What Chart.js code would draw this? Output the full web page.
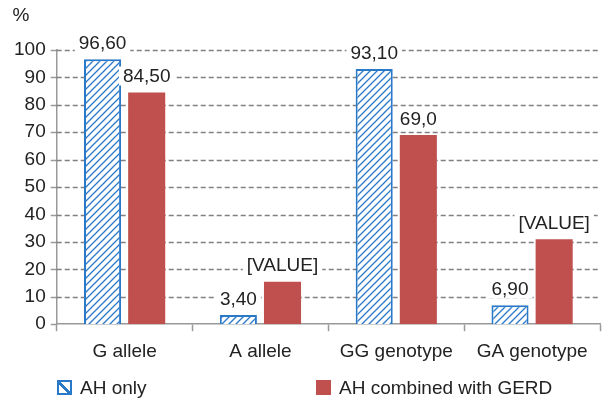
<!DOCTYPE html>
<html lang="en">
<head>
    <meta charset="UTF-8">
    <title>AH only vs AH combined with GERD</title>
    <script src="https://cdn.jsdelivr.net/npm/chart.js"></script>
    <style>
        body { margin: 0; background: #fff; }
        .legend {
            position: absolute; top: 377px; left: 0; width: 614px; height: 22px;
            font: 19px "Liberation Sans", Arial, sans-serif; color: #222;
        }
        .legend span.item { position: absolute; top: 0; white-space: nowrap; }
        .legend i {
            display: inline-block; width: 11px; height: 11px; vertical-align: -1px;
            margin-right: 8px; box-sizing: content-box;
        }
        .legend i.hatch {
            border: 2px solid #2a78c8;
            background: linear-gradient(45deg, #fff 40%, #2a78c8 40%, #2a78c8 58%, #fff 58%);
        }
        .legend i.solid { background: #c0504d; border: 2px solid #c0504d; }
    </style>
</head>
<body>
<canvas id="chart" width="614" height="400"></canvas>
<div class="legend">
    <span class="item" style="left:57px"><i class="hatch"></i>AH only</span>
    <span class="item" style="left:316px"><i class="solid"></i>AH combined with GERD</span>
</div>
<script>
    // data
    const categories = ['G allele', 'A allele', 'GG genotype', 'GA genotype'];
    const ahOnly = [96.6, 3.4, 93.1, 6.9];
    const ahGerd = [84.5, 15.5, 69.0, 31.0];
    const ahOnlyText = ['96,60', '3,40', '93,10', '6,90'];
    const ahGerdText = ['84,50', '[VALUE]', '69,0', '[VALUE]'];
    const yTicks = [0, 10, 20, 30, 40, 50, 60, 70, 80, 90, 100];

    const blue = '#2a78c8';
    const red = '#c0504d';
    const FONT = '"Liberation Sans", Arial, sans-serif';

    // hatch pattern for the AH only bars
    function makeHatch() {
        const s = 7;
        const c = document.createElement('canvas');
        c.width = s; c.height = s;
        const g = c.getContext('2d');
        g.fillStyle = '#fff';
        g.fillRect(0, 0, s, s);
        g.strokeStyle = blue;
        g.lineWidth = 1.3;
        g.beginPath();
        g.moveTo(0, s); g.lineTo(s, 0);
        g.moveTo(-1, 1); g.lineTo(1, -1);
        g.moveTo(s - 1, s + 1); g.lineTo(s + 1, s - 1);
        g.stroke();
        return g.createPattern(c, 'repeat');
    }

    // dashed horizontal grid (built-in one did not show up here)
    const dashedGrid = {
        id: 'dashedGrid',
        beforeDatasetsDraw(chart) {
            const g = chart.ctx;
            const ys = chart.scales.y;
            const area = chart.chartArea;
            g.save();
            g.lineWidth = 1.5;
            yTicks.forEach(v => {
                const py = Math.round(ys.getPixelForValue(v)) + 0.5;
                g.strokeStyle = '#999';
                g.setLineDash([]);
                g.beginPath();
                g.moveTo(area.left - 6, py); g.lineTo(area.left, py);
                g.stroke();
                if (v === yTicks[0]) return;
                g.strokeStyle = '#808080';
                g.setLineDash([5, 3]);
                g.beginPath();
                g.moveTo(area.left, py); g.lineTo(area.right, py);
                g.stroke();
            });
            g.restore();
        }
    };

    // value labels on a white box, plus the "%" unit above the y axis
    const valueLabels = {
        id: 'valueLabels',
        afterDatasetsDraw(chart) {
            const g = chart.ctx;
            const texts = [ahOnlyText, ahGerdText];
            g.save();
            g.font = '19px ' + FONT;
            g.textAlign = 'center';
            g.textBaseline = 'bottom';
            texts.forEach((list, di) => {
                chart.getDatasetMeta(di).data.forEach((bar, i) => {
                    const t = list[i];
                    const w = g.measureText(t).width;
                    const y = bar.y - 7;
                    g.fillStyle = '#fff';
                    g.fillRect(bar.x - w / 2 - 4, y - 19, w + 8, 19);
                    g.fillStyle = '#222';
                    g.fillText(t, bar.x, y + 1);
                });
            });
            const ys = chart.scales.y;
            g.fillText('%', ys.left + 12, ys.top - 25);
            g.restore();
        }
    };

    const chart = new Chart(document.getElementById('chart'), {
        type: 'bar',
        data: {
            labels: categories,
            datasets: [{
                label: 'AH only',
                data: ahOnly,
                backgroundColor: makeHatch(),
                borderColor: blue,
                borderWidth: 2,
                borderSkipped: 'bottom'
            }, {
                label: 'AH combined with GERD',
                data: ahGerd,
                backgroundColor: red,
                borderWidth: 0
            }]
        },
        options: {
            responsive: false,
            animation: false,
            categoryPercentage: 0.65,
            barPercentage: 0.84,
            layout: { padding: { top: 50, left: 9, right: 14, bottom: 28 } },
            plugins: { legend: { display: false } },
            scales: {
                x: {
                    grid: { drawOnChartArea: false, drawTicks: true, tickLength: 7, tickColor: '#999', tickWidth: 1.5 },
                    border: { color: '#999', width: 1.5 },
                    ticks: { color: '#222', font: { family: FONT, size: 19 }, padding: 9 }
                },
                y: {
                    min: yTicks[0],
                    max: yTicks[yTicks.length - 1],
                    ticks: { stepSize: yTicks[1] - yTicks[0], color: '#222', font: { family: FONT, size: 19 }, padding: 5 },
                    grid: { display: false, tickLength: 6 },
                    border: { color: '#999', width: 1.5 }
                }
            }
        },
        plugins: [dashedGrid, valueLabels]
    });
</script>
</body>
</html>
